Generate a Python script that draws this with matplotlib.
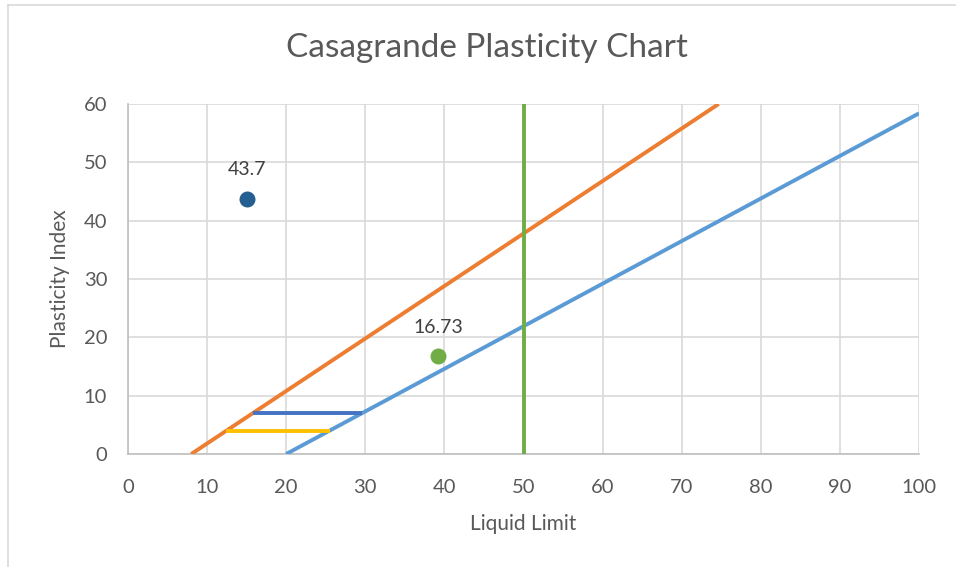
import matplotlib
matplotlib.use("Agg")
import matplotlib.pyplot as plt
from matplotlib.lines import Line2D

# Data
a_line_ll = [20, 100]
a_line_pi = [0, 58.4]
u_line_ll = [8, 74.67]
u_line_pi = [0, 60]
ll_50_x = [50, 50]
ll_50_y = [0, 60]
cl_ml_upper_ll = [15.78, 29.59]
cl_ml_upper_pi = [7, 7]
cl_ml_lower_ll = [12.44, 25.48]
cl_ml_lower_pi = [4, 4]
sample1_ll = [15]
sample1_pi = [43.7]
sample2_ll = [39.2]
sample2_pi = [16.73]
x_ticks = list(range(0, 101, 10))
y_ticks = list(range(0, 61, 10))

plt.rcParams['font.family'] = ['Lato', 'DejaVu Sans']

fig = plt.figure(figsize=(9.56, 5.67), dpi=100)
ax = fig.add_axes([128/956, 1-454/567, (919-128)/956, (454-104)/567])

lw = 2.8
ax.plot(a_line_ll, a_line_pi, color='#5B9BD5', lw=lw, solid_capstyle='butt', zorder=3)
ax.plot(u_line_ll, u_line_pi, color='#ED7D31', lw=lw, solid_capstyle='butt', zorder=3)
ax.plot(ll_50_x, ll_50_y, color='#70AD47', lw=lw, solid_capstyle='butt', zorder=3)
ax.plot(cl_ml_upper_ll, cl_ml_upper_pi, color='#4472C4', lw=lw, solid_capstyle='butt', zorder=3)
ax.plot(cl_ml_lower_ll, cl_ml_lower_pi, color='#FFC000', lw=lw, solid_capstyle='butt', zorder=3)
ax.scatter(sample1_ll, sample1_pi, s=110, color='#255E91', zorder=4)
ax.scatter(sample2_ll, sample2_pi, s=110, color='#70AD47', zorder=4)
for x, y in zip(sample1_ll + sample2_ll, sample1_pi + sample2_pi):
    ax.annotate(f"{y:g}", (x, y), xytext=(0, 15), textcoords='offset points',
                ha='center', va='bottom', fontsize=14, color='#404040')

ax.set_xlim(0, 100)
ax.set_ylim(0, 60)
ax.set_xticks(x_ticks)
ax.set_yticks(y_ticks)
ax.grid(True, color='#D9D9D9', lw=1.2, zorder=0)
ax.set_axisbelow(True)
for s in ['top', 'right']:
    ax.spines[s].set_visible(False)
for s in ['left', 'bottom']:
    ax.spines[s].set_color('#BFBFBF')
    ax.spines[s].set_linewidth(1.2)
ax.tick_params(length=0, labelsize=14.5, labelcolor='#595959')
ax.tick_params(axis='x', pad=18)
ax.tick_params(axis='y', pad=15)
ax.set_xlabel('Liquid Limit', fontsize=15, color='#595959', labelpad=13)
ax.set_ylabel('Plasticity Index', fontsize=15, color='#595959', labelpad=10)
fig.text(487/956, 1-48/567, 'Casagrande Plasticity Chart', ha='center', va='center',
         fontsize=24, color='#595959')

fig.add_artist(Line2D([8/956, 8/956], [0, 1-5/567], transform=fig.transFigure, color='#D9D9D9', lw=1.2))
fig.add_artist(Line2D([8/956, 1], [1-5/567, 1-5/567], transform=fig.transFigure, color='#D9D9D9', lw=1.2))

fig.savefig('out.png', dpi=100)
